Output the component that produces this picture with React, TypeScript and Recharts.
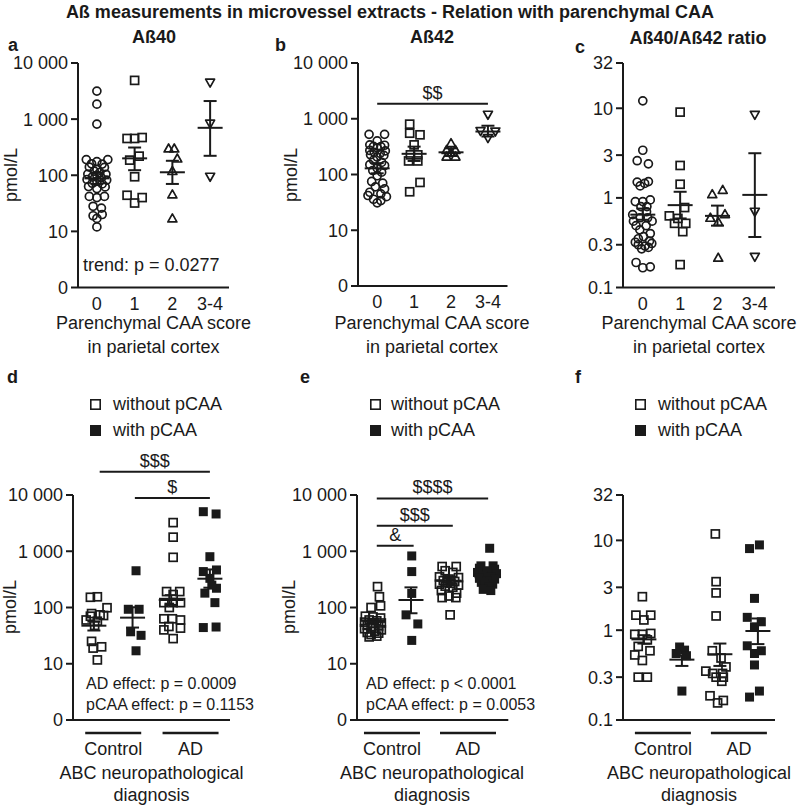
import React from "react";
import { ScatterChart, Scatter, XAxis, YAxis, ReferenceLine } from "recharts";

const FONT = "'Liberation Sans', Arial, Helvetica, sans-serif";
const INK = "#1a1a1a";

// each point: [offset from group centre (category units), value]
type Pt = [number, number];
type Mark = "circle" | "square" | "up" | "down" | "filled";

const caaScores = ["0", "1", "2", "3-4"];
const diagGroups = ["Control", "AD"];
const pmolTicks = [1, 10, 100, 1000, 10000];
const ratioTicks = [0.1, 0.3, 1, 3, 10, 32];

// ---- a: Aß40 vs parenchymal CAA score
const a0: Pt[] = [
  [0, 3160], [0, 1850], [0, 815], [-0.28, 190], [0.29, 190], [0, 175], [-0.14, 160], [0.14, 158],
  [-0.2, 140], [0.2, 138], [0, 128], [-0.07, 118], [0.08, 112], [-0.24, 105], [0.24, 104], [0, 100],
  [-0.12, 93], [0.12, 90], [-0.26, 84], [0.26, 82], [0, 78], [-0.12, 72], [0.14, 70], [-0.22, 63],
  [0.22, 62], [0, 58], [-0.2, 42], [0.2, 42], [0, 40], [-0.1, 28], [0.12, 26], [-0.1, 19], [0.14, 20],
  [0, 17], [0, 12],
];
const a1: Pt[] = [
  [0, 4900], [-0.2, 452], [0, 452], [0.2, 470], [-0.13, 186], [0.12, 219], [0, 94], [-0.2, 44],
  [0.2, 40], [0, 32],
];
const a2: Pt[] = [[-0.1, 300], [0.05, 300], [0.13, 199], [0, 119], [0, 45.6], [0, 17]];
const a3: Pt[] = [[0, 4470], [0, 830], [0, 94]];
const aMean = [88, 200, 113, 700];
const aHigh = [112, 312, 181, 2100];
const aLow = [70, 123, 70, 222];

// ---- b: Aß42 vs parenchymal CAA score
const b0: Pt[] = [
  [-0.22, 525], [0.2, 525], [0, 400], [-0.2, 340], [0.2, 335], [-0.1, 320], [0.1, 315], [0, 300],
  [-0.2, 270], [0.22, 265], [-0.08, 250], [0.08, 240], [-0.18, 225], [0.18, 220], [0, 205], [-0.1, 180],
  [0.12, 165], [-0.2, 150], [0.2, 145], [0, 130], [-0.12, 118], [0.12, 110], [0, 95], [-0.15, 75],
  [0.15, 70], [-0.05, 60], [0.2, 55], [-0.2, 48], [0.1, 45], [-0.25, 42], [0.25, 40], [-0.1, 36],
  [0.1, 34], [0, 31],
];
const b1: Pt[] = [
  [-0.12, 800], [-0.12, 550], [0.16, 515], [0, 340], [-0.1, 225], [0.1, 225], [-0.15, 175], [0.1, 175],
  [0.16, 72], [-0.12, 49],
];
const b2: Pt[] = [[0, 365], [-0.12, 275], [0.12, 275], [-0.12, 210], [0.12, 210], [0, 250]];
const b3: Pt[] = [[0, 1180], [-0.2, 600], [0.2, 590], [0, 450]];
const bMean = [129, 235, 250, 590];
const bHigh = [160, 316, 295, 750];
const bLow = [105, 175, 215, 480];

// ---- c: Aß40/Aß42 ratio vs parenchymal CAA score
const c0: Pt[] = [
  [0, 12.1], [0, 3.4], [-0.15, 2.6], [0.15, 2.4], [-0.15, 1.5], [0.15, 1.52], [-0.07, 1.36], [0.05, 1.45],
  [-0.2, 0.91], [0, 0.91], [0.2, 0.95], [0.11, 0.8], [-0.05, 0.8], [0.1, 0.7], [-0.27, 0.65], [-0.07, 0.6],
  [0.13, 0.6], [-0.25, 0.55], [0.25, 0.55], [-0.18, 0.49], [0.09, 0.49], [-0.08, 0.44], [0.2, 0.4],
  [0.02, 0.37], [-0.12, 0.35], [0.18, 0.33], [-0.2, 0.32], [0.24, 0.31], [-0.12, 0.3], [0.06, 0.29],
  [0.15, 0.28], [-0.03, 0.27], [-0.18, 0.19], [0, 0.166], [0.2, 0.17],
];
const c1: Pt[] = [
  [0, 9.06], [0, 2.3], [0, 1.42], [0.12, 0.78], [-0.29, 0.63], [-0.06, 0.59], [-0.15, 0.52], [0.15, 0.52],
  [0.07, 0.42], [0, 0.18],
];
const c2: Pt[] = [[-0.14, 1.1], [0.14, 1.23], [-0.19, 0.6], [0.2, 0.66], [0.02, 0.54], [0.02, 0.215]];
const c3: Pt[] = [[0, 8.45], [0, 0.7], [0, 0.22]];
const cMean = [0.65, 0.83, 0.63, 1.08];
const cHigh = [0.76, 1.17, 0.82, 3.15];
const cLow = [0.57, 0.59, 0.49, 0.366];

// ---- d: Aß40 by diagnosis and pCAA
const d0: Pt[] = [
  [-0.09, 152], [0.09, 155], [0.34, 99], [-0.06, 78], [0.16, 74], [0.25, 72], [-0.09, 70], [0.09, 57],
  [-0.2, 60], [0.02, 48], [-0.06, 25], [0.2, 20], [-0.02, 19], [0.09, 11.7],
];
const d1: Pt[] = [[0.09, 450], [-0.11, 93], [0.17, 93], [-0.05, 37], [0.22, 32], [0.09, 17]];
const d2: Pt[] = [
  [0.05, 3230], [0.05, 1780], [0.05, 780], [-0.12, 192], [0.22, 192], [0.05, 170], [-0.19, 122],
  [0.05, 122], [0.24, 122], [-0.05, 100], [-0.19, 63], [0.03, 63], [0.24, 60], [-0.06, 46], [0.24, 43],
  [-0.19, 40], [0.05, 28],
];
const d3: Pt[] = [
  [-0.17, 5050], [0.16, 4600], [0, 800], [-0.17, 435], [0.17, 465], [0, 330], [-0.13, 180], [0.17, 220],
  [0.05, 250], [0.13, 122], [-0.17, 44], [0.16, 45],
];
const dMean = [47.5, 66, 136, 325];
const dHigh = [56, 101, 166, 475];
const dLow = [39, 44, 111, 225];

// ---- e: Aß42 by diagnosis and pCAA
const e0: Pt[] = [
  [0.12, 235], [0.17, 155], [-0.05, 100], [0.2, 107], [-0.2, 70], [0, 68], [0.2, 65], [-0.1, 60],
  [0.1, 58], [-0.22, 55], [0.22, 53], [0, 52], [-0.15, 48], [0.15, 47], [-0.05, 45], [-0.22, 42],
  [0.22, 40], [0.05, 38], [-0.15, 36], [0.15, 35], [-0.05, 33], [0.1, 31], [-0.1, 30],
];
const e1: Pt[] = [[0.02, 825], [0.02, 435], [0.02, 178], [-0.13, 74], [0.18, 51], [0.02, 26]];
const e2: Pt[] = [
  [-0.18, 535], [0.19, 535], [-0.1, 450], [0.1, 420], [-0.25, 350], [0.25, 340], [0, 320], [-0.15, 300],
  [0.15, 290], [-0.05, 280], [0.05, 270], [-0.25, 260], [0.25, 250], [-0.1, 240], [0.1, 230], [-0.2, 200],
  [0.2, 180], [0, 160], [-0.18, 150], [0.18, 150], [0.03, 74],
];
const e3: Pt[] = [
  [0.07, 1130], [-0.16, 550], [0.16, 550], [-0.2, 500], [0.2, 480], [0, 450], [-0.25, 420], [0.25, 400],
  [-0.1, 370], [0.1, 350], [-0.2, 330], [0.2, 320], [0, 300], [-0.15, 280], [0.15, 260], [-0.05, 250],
  [0.05, 230], [-0.1, 210], [0.1, 200],
];
const eMean = [58, 136, 300, 345];
const eHigh = [63, 228, 350, 400];
const eLow = [53, 79, 255, 300];

// ---- f: ratio by diagnosis and pCAA
const f0: Pt[] = [
  [-0.04, 2.36], [-0.21, 1.47], [0.18, 1.47], [0, 1.3], [-0.24, 0.9], [-0.04, 0.9], [0.18, 0.92],
  [0.09, 0.78], [-0.15, 0.66], [0.16, 0.59], [-0.24, 0.53], [-0.04, 0.46], [-0.15, 0.3], [0.09, 0.3],
];
const f1: Pt[] = [[-0.06, 0.65], [0.07, 0.6], [-0.15, 0.55], [0.12, 0.52], [0, 0.21]];
const f2: Pt[] = [
  [-0.12, 11.8], [-0.1, 3.47], [-0.1, 2.6], [-0.1, 1.44], [-0.2, 0.59], [0.03, 0.49], [0.16, 0.39],
  [-0.37, 0.35], [-0.19, 0.33], [0.07, 0.33], [-0.1, 0.3], [0.09, 0.3], [0.05, 0.27], [-0.26, 0.186],
  [-0.06, 0.155], [0.09, 0.165],
];
const f3: Pt[] = [
  [-0.22, 8.1], [0.04, 8.9], [-0.09, 2.26], [-0.28, 1.39], [0.09, 1.24], [-0.09, 1.09], [-0.28, 0.67],
  [0.09, 0.59], [-0.09, 0.55], [-0.09, 0.41], [-0.22, 0.18], [0.04, 0.21],
];
const fMean = [0.79, 0.47, 0.54, 0.98];
const fHigh = [0.88, 0.52, 0.71, 1.35];
const fLow = [0.71, 0.4, 0.4, 0.7];

type Sig = { from: number; to: number; y: number; text: string };
const bSig: Sig[] = [{ from: 0, to: 3, y: 1850, text: "$$" }];
const dSig: Sig[] = [
  { from: 0.15, to: 3.0, y: 25900, text: "$$$" },
  { from: 1.06, to: 3.0, y: 8850, text: "$" },
];
const eSig: Sig[] = [
  { from: 0.1, to: 3.03, y: 8700, text: "$$$$" },
  { from: 0.1, to: 2.1, y: 2850, text: "$$$" },
  { from: 0.1, to: 1.07, y: 1255, text: "&" },
];

const pmolLabel = (v: number) => (v === 1 ? "0" : v.toLocaleString("en-US").replace(",", " "));
const ratioLabel = (v: number) => String(v);

function Marker({ cx, cy, kind }: { cx: number; cy: number; kind: Mark }) {
  const sw = 1.7;
  if (kind === "circle")
    return <circle cx={cx} cy={cy} r={4} fill="none" stroke={INK} strokeWidth={sw} />;
  if (kind === "square")
    return <rect x={cx - 4} y={cy - 4} width={8} height={8} fill="none" stroke={INK} strokeWidth={sw} />;
  if (kind === "filled")
    return <rect x={cx - 4.5} y={cy - 4.5} width={9} height={9} fill={INK} />;
  if (kind === "up")
    return (
      <path d={`M${cx},${cy - 4.5}L${cx + 4.5},${cy + 3.5}L${cx - 4.5},${cy + 3.5}Z`}
        fill="none" stroke={INK} strokeWidth={sw} strokeLinejoin="round" />
    );
  return (
    <path d={`M${cx},${cy + 4.5}L${cx + 4.5},${cy - 3.5}L${cx - 4.5},${cy - 3.5}Z`}
      fill="none" stroke={INK} strokeWidth={sw} strokeLinejoin="round" />
  );
}

const ScoreTick = ({ x, y, payload }: any) => (
  <text x={x} y={y + 16} textAnchor="middle" dominantBaseline="central" fontSize={18} fill={INK} fontFamily={FONT}>
    {caaScores[Math.round(payload.value)]}
  </text>
);

const DiagTick = ({ x, y, payload }: any) => (
  <g>
    <line x1={x - 28} x2={x + 28} y1={y + 13} y2={y + 13} stroke={INK} strokeWidth={2.5} />
    <text x={x} y={y + 29} textAnchor="middle" dominantBaseline="central" fontSize={18} fill={INK} fontFamily={FONT}>
      {diagGroups[payload.value < 1.5 ? 0 : 1]}
    </text>
  </g>
);

// text sitting centred above a significance bar
const sigLabel = (text: string) => (lp: any) => {
  const vb = lp.viewBox || {};
  const x = (vb.x ?? 0) + (vb.width ?? 0) / 2;
  return (
    <text x={x} y={(vb.y ?? 0) - 11} textAnchor="middle" dominantBaseline="central" fontSize={18}
      fill={INK} fontFamily={FONT}>
      {text}
    </text>
  );
};

interface PanelProps {
  box: [number, number, number, number]; // plot area on page: x0, x1, y0, y1
  xDomain: [number, number];
  yDomain: [number, number];
  yTicks: number[];
  yLabel: (v: number) => string;
  groups: Pt[][];
  marks: Mark[];
  mean: number[];
  high: number[];
  low: number[];
  sig?: Sig[];
  diagnosis?: boolean;
}

function Panel(p: PanelProps) {
  const [x0, x1, y0, y1] = p.box;
  const ML = 80;
  const MT = 80;
  const width = x1 - x0 + ML + 10;
  const height = y1 - y0 + MT + 40;
  const unit = (width - ML - 10) / (p.xDomain[1] - p.xDomain[0]);
  const half = 12.5 / unit;
  const cap = 6.5 / unit;
  const line = { stroke: INK, strokeWidth: 2 };
  return (
    <div style={{ position: "absolute", left: x0 - ML, top: y0 - MT }}>
      <ScatterChart width={width} height={height} margin={{ top: MT, right: 10, bottom: 10, left: 10 }}>
        <XAxis
          type="number"
          dataKey="x"
          domain={p.xDomain}
          allowDataOverflow
          ticks={p.diagnosis ? [0.5, 2.5] : [0, 1, 2, 3]}
          interval={0}
          tick={p.diagnosis ? <DiagTick /> : <ScoreTick />}
          tickLine={false}
          tickSize={0}
          tickMargin={0}
          height={30}
          axisLine={line}
        />
        <YAxis
          type="number"
          dataKey="y"
          scale="log"
          domain={p.yDomain}
          allowDataOverflow
          ticks={p.yTicks}
          interval={0}
          tickFormatter={p.yLabel}
          width={70}
          tickSize={7}
          tickMargin={3}
          axisLine={line}
          tickLine={line}
          tick={{ fontSize: 18, fill: INK, fontFamily: FONT }}
        />
        {p.groups.map((g, i) => (
          <Scatter
            key={i}
            data={g.map(([dx, v]) => ({ x: i + dx, y: v }))}
            shape={(s: any) => <Marker cx={s.cx} cy={s.cy} kind={p.marks[i]} />}
            isAnimationActive={false}
          />
        ))}
        {p.mean.map((m, i) => (
          <React.Fragment key={`m${i}`}>
            <ReferenceLine segment={[{ x: i - half, y: m }, { x: i + half, y: m }]} {...line} />
            <ReferenceLine segment={[{ x: i, y: p.low[i] }, { x: i, y: p.high[i] }]} {...line} />
            <ReferenceLine segment={[{ x: i - cap, y: p.high[i] }, { x: i + cap, y: p.high[i] }]} {...line} />
            <ReferenceLine segment={[{ x: i - cap, y: p.low[i] }, { x: i + cap, y: p.low[i] }]} {...line} />
          </React.Fragment>
        ))}
        {(p.sig || []).map((s, i) => (
          <ReferenceLine
            key={`s${i}`}
            segment={[{ x: s.from, y: s.y }, { x: s.to, y: s.y }]}
            ifOverflow="visible"
            {...line}
            label={{ content: sigLabel(s.text) }}
          />
        ))}
      </ScatterChart>
    </div>
  );
}

const topMarks: Mark[] = ["circle", "square", "up", "down"];
const bottomMarks: Mark[] = ["square", "filled", "square", "filled"];

export default function App() {
  const t = { fontFamily: FONT, fill: INK } as const;
  return (
    <div style={{ position: "absolute", left: 0, top: 0, width: 800, height: 806, background: "#fff", overflow: "hidden" }}>
      <Panel box={[78, 229, 63, 287.5]} xDomain={[-0.5, 3.5]} yDomain={[1, 10000]} yTicks={pmolTicks}
        yLabel={pmolLabel} groups={[a0, a1, a2, a3]} marks={topMarks} mean={aMean} high={aHigh} low={aLow} />
      <Panel box={[357.5, 507, 63, 286]} xDomain={[-0.52, 3.53]} yDomain={[1, 10000]} yTicks={pmolTicks}
        yLabel={pmolLabel} groups={[b0, b1, b2, b3]} marks={topMarks} mean={bMean} high={bHigh} low={bLow} sig={bSig} />
      <Panel box={[623, 775, 63, 287.5]} xDomain={[-0.53, 3.54]} yDomain={[0.1, 32]} yTicks={ratioTicks}
        yLabel={ratioLabel} groups={[c0, c1, c2, c3]} marks={topMarks} mean={cMean} high={cHigh} low={cLow} />
      <Panel box={[73, 230, 495, 720]} xDomain={[-0.54, 3.52]} yDomain={[1, 10000]} yTicks={pmolTicks}
        yLabel={pmolLabel} groups={[d0, d1, d2, d3]} marks={bottomMarks} mean={dMean} high={dHigh} low={dLow}
        sig={dSig} diagnosis />
      <Panel box={[356.7, 508, 495, 720]} xDomain={[-0.42, 3.56]} yDomain={[1, 10000]} yTicks={pmolTicks}
        yLabel={pmolLabel} groups={[e0, e1, e2, e3]} marks={bottomMarks} mean={eMean} high={eHigh} low={eLow}
        sig={eSig} diagnosis />
      <Panel box={[623, 775, 495, 720]} xDomain={[-0.55, 3.45]} yDomain={[0.1, 32]} yTicks={ratioTicks}
        yLabel={ratioLabel} groups={[f0, f1, f2, f3]} marks={bottomMarks} mean={fMean} high={fHigh} low={fLow}
        diagnosis />

      <svg width={800} height={806} style={{ position: "absolute", left: 0, top: 0, pointerEvents: "none" }}>
        <g {...t} fontSize={18} dominantBaseline="central">
          <text x={390} y={12} textAnchor="middle" fontWeight="bold">
            Aß measurements in microvessel extracts - Relation with parenchymal CAA
          </text>

          <text x={8} y={45} fontWeight="bold">a</text>
          <text x={275} y={45} fontWeight="bold">b</text>
          <text x={575} y={47} fontWeight="bold">c</text>
          <text x={7} y={377} fontWeight="bold">d</text>
          <text x={300} y={377} fontWeight="bold">e</text>
          <text x={575} y={377} fontWeight="bold">f</text>

          <text x={154} y={37} textAnchor="middle" fontWeight="bold">Aß40</text>
          <text x={432} y={37} textAnchor="middle" fontWeight="bold">Aß42</text>
          <text x={698} y={38} textAnchor="middle" fontWeight="bold">Aß40/Aß42 ratio</text>

          <text x={11} y={175} textAnchor="middle" transform="rotate(-90 11 175)">pmol/L</text>
          <text x={291} y={175} textAnchor="middle" transform="rotate(-90 291 175)">pmol/L</text>
          <text x={10} y={607} textAnchor="middle" transform="rotate(-90 10 607)">pmol/L</text>
          <text x={289} y={607} textAnchor="middle" transform="rotate(-90 289 607)">pmol/L</text>

          {[153.5, 432, 699].map((cx) => (
            <g key={cx}>
              <text x={cx} y={323} textAnchor="middle">Parenchymal CAA score</text>
              <text x={cx} y={347} textAnchor="middle">in parietal cortex</text>
            </g>
          ))}
          {[151.5, 432, 699].map((cx) => (
            <g key={cx}>
              <text x={cx} y={773} textAnchor="middle">ABC neuropathological</text>
              <text x={cx} y={795} textAnchor="middle">diagnosis</text>
            </g>
          ))}

          <text x={83} y={265}>trend: p = 0.0277</text>
          <text x={86} y={683} fontSize={16}>AD effect: p = 0.0009</text>
          <text x={86} y={704} fontSize={16}>pCAA effect: p = 0.1153</text>
          <text x={366} y={683} fontSize={16}>AD effect: p &lt; 0.0001</text>
          <text x={366} y={704} fontSize={16}>pCAA effect: p = 0.0053</text>

          {[[90, 113], [370, 391], [635, 658]].map(([sx, tx]) => (
            <g key={sx}>
              <rect x={sx + 0.8} y={399.8} width={9.4} height={9.4} fill="none" stroke={INK} strokeWidth={1.6} />
              <text x={tx} y={404}>without pCAA</text>
              <rect x={sx} y={425} width={11} height={11} fill={INK} />
              <text x={tx} y={430}>with pCAA</text>
            </g>
          ))}
        </g>
      </svg>
    </div>
  );
}
